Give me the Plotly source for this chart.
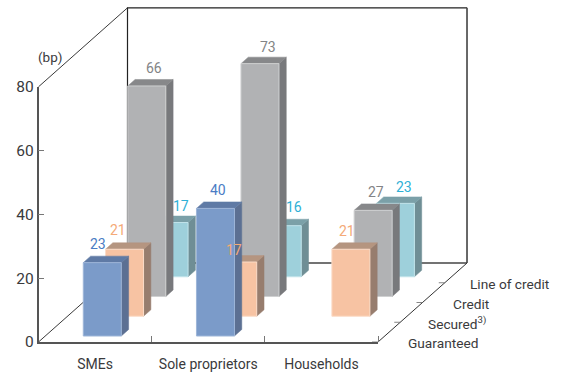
import plotly.graph_objects as go

# ---- data ----
categories = ["SMEs", "Sole proprietors", "Households"]
series_names = ["Guaranteed", "Secured<sup>3)</sup>", "Credit", "Line of credit"]
guaranteed = [23, 40, None]
secured = [21, 17, 21]
credit = [66, 73, 27]
line_of_credit = [17, 16, 23]
y_ticks = [0, 20, 40, 60, 80]

series_values = [guaranteed, secured, credit, line_of_credit]

# ---- styling / geometry ----
W, H = 563, 372
X0, Y0 = 38.5, 342.0          # pixel of the chart origin
CAT_PX, BP_PX = 113.17, 3.19  # pixels per category, pixels per bp
DEPTH_DX, DEPTH_DY = 89.0, 79.0  # pixel shift across the whole floor depth
BAR_X0, BAR_W = 0.336, 0.336
BAR_FRONT, BAR_DEPTH = 0.076, 0.082
FONT = "Roboto"
TXT = "#3a3a3c"

# (front, top, side, edge, label) per series
colours = [
    ("#7b9bc9", "#5f7aa5", "#5c7093", "#9db5d8", "#4a7cc4"),
    ("#f7c3a3", "#b59580", "#977d6e", "#fbdcc8", "#f4aa78"),
    ("#b1b2b4", "#87888a", "#78797c", "#cfd0d1", "#838486"),
    ("#9ed0db", "#7ba0a8", "#6f8e95", "#c0e3ea", "#2fb0d6"),
]
# label nudges in pixels from the centre of the front-top edge
nudges = {
    (0, 0): (-4, -19), (0, 1): (-7, -19), (0, 2): (7, -18), (0, 3): (12, -17),
    (1, 0): (3, -18), (1, 1): (-4, -12), (1, 2): (8, -17), (1, 3): (12, -19),
    (2, 1): (-4, -18), (2, 2): (3, -18), (2, 3): (9, -16),
}
depth_label_shift = [28, 26, 28.5, 23]


def proj(c, v, d):
    """category position, bp value, floor depth (0-1) -> main-axis coordinates"""
    return c + d * DEPTH_DX / CAT_PX, v + d * DEPTH_DY / BP_PX


def poly(pts, fill, edge, width=1):
    xs, ys = zip(*[proj(*p) for p in pts + pts[:1]])
    return go.Scatter(x=xs, y=ys, mode="lines", fill="toself", fillcolor=fill,
                      line=dict(color=edge, width=width), hoverinfo="skip",
                      showlegend=False, xaxis="x", yaxis="y")


def path(pts, colour, width):
    xs, ys = zip(*[proj(*p) for p in pts])
    return go.Scatter(x=xs, y=ys, mode="lines", line=dict(color=colour, width=width),
                      hoverinfo="skip", showlegend=False, xaxis="x", yaxis="y")


fig = go.Figure()
top = y_ticks[-1]
n = len(categories)

# walls and floor edges
fig.add_trace(path([(0, 0, 1), (0, top, 1), (n, top, 1)], "#222222", 1.2))
fig.add_trace(path([(n, top, 1), (n, 0, 1)], "#444444", 1.6))
fig.add_trace(path([(0, 0, 1), (n, 0, 1)], "#444444", 1.6))
fig.add_trace(path([(0, top, 0), (0, top, 1)], "#222222", 0.9))
fig.add_trace(path([(0, 0, 0), (0, 0, 1)], "#222222", 0.9))
fig.add_trace(path([(n, 0, 0), (n, 0, 1)], "#333333", 1))
for k in range(len(series_names)):
    d = k / len(series_names)
    fig.add_trace(path([(n, 0, d), (n - 6 / CAT_PX, 0, d)], "#777777", 0.9))

annotations = []
# bars, back row first
for s in reversed(range(len(series_names))):
    front, topc, side, edge, lab = colours[s]
    for c in range(n):
        v = series_values[s][c]
        if v is None:
            continue
        x0 = c + BAR_X0
        x1 = x0 + BAR_W
        df = s / len(series_names) + BAR_FRONT
        db = df + BAR_DEPTH
        fig.add_trace(poly([(x1, 0, df), (x1, 0, db), (x1, v, db), (x1, v, df)], side, side, 0.5))
        fig.add_trace(poly([(x0, v, df), (x1, v, df), (x1, v, db), (x0, v, db)], topc, topc, 0.5))
        fig.add_trace(poly([(x0, 0, df), (x1, 0, df), (x1, v, df), (x0, v, df)], front, edge, 1))

# value labels sit above all bars
for s in range(len(series_names)):
    lab = colours[s][4]
    for c in range(n):
        v = series_values[s][c]
        if v is None:
            continue
        ax, ay = proj(c + BAR_X0 + BAR_W / 2, v, s / len(series_names) + BAR_FRONT)
        nx, ny = nudges[(c, s)]
        annotations.append(dict(x=ax, y=ay, xref="x", yref="y", text=str(v), showarrow=False,
                                xshift=nx, yshift=-ny, xanchor="center", yanchor="middle",
                                font=dict(family=FONT, size=14, color=lab)))

# depth labels
for k, name in enumerate(series_names):
    ax, ay = proj(n, 0, k / len(series_names))
    annotations.append(dict(x=ax, y=ay, xref="x", yref="y", text=name, showarrow=False,
                            xshift=depth_label_shift[k], yshift=-1, xanchor="left", yanchor="middle",
                            font=dict(family=FONT, size=13.7, color=TXT)))

annotations.append(dict(x=36 / W, y=1 - 57 / H, xref="paper", yref="paper", text="(bp)",
                        showarrow=False, xanchor="left", yanchor="middle",
                        font=dict(family=FONT, size=13.5, color=TXT)))

# invisible anchor for the real front axes
fig.add_trace(go.Scatter(x=[0, n], y=[0, top], mode="markers", marker=dict(opacity=0),
                         hoverinfo="skip", showlegend=False, xaxis="x2", yaxis="y2"))

fig.update_layout(
    template="none",
    width=W, height=H, autosize=False,
    margin=dict(l=0, r=0, t=0, b=0, pad=0),
    paper_bgcolor="white", plot_bgcolor="rgba(0,0,0,0)",
    showlegend=False, annotations=annotations,
    xaxis=dict(domain=[0, 1], range=[-X0 / CAT_PX, (W - X0) / CAT_PX], visible=False,
               automargin=False, fixedrange=True),
    yaxis=dict(domain=[0, 1], range=[-(H - Y0) / BP_PX, Y0 / BP_PX], visible=False,
               automargin=False, fixedrange=True),
    xaxis2=dict(domain=[X0 / W, (X0 + n * CAT_PX) / W], range=[0, n], anchor="y2",
                tickmode="array", tickvals=[i + 0.5 for i in range(n)], ticktext=categories,
                ticks="", showgrid=False, zeroline=False, showline=True, linecolor="#555555", linewidth=1.5,
                ticklabelstandoff=8, automargin=False,
                tickfont=dict(family=FONT, size=14, color=TXT),
                minor=dict(tickmode="array", tickvals=list(range(1, n + 1)), ticks="inside",
                           ticklen=6, tickcolor="#777777", tickwidth=1, showgrid=False),
                fixedrange=True),
    yaxis2=dict(domain=[(H - Y0) / H, (H - Y0 + top * BP_PX) / H], range=[0, top], anchor="x2",
                tickmode="array", tickvals=y_ticks, ticks="inside", ticklen=6, tickcolor="#777777",
                showgrid=False, zeroline=False, showline=True, linecolor="#555555", linewidth=1.5,
                automargin=False, tickfont=dict(family=FONT, size=15.5, color=TXT), fixedrange=True),
)
fig.write_html("out.html", config={"displayModeBar": False},
               post_script="document.body.style.margin='0';document.documentElement.style.overflow='hidden';")
